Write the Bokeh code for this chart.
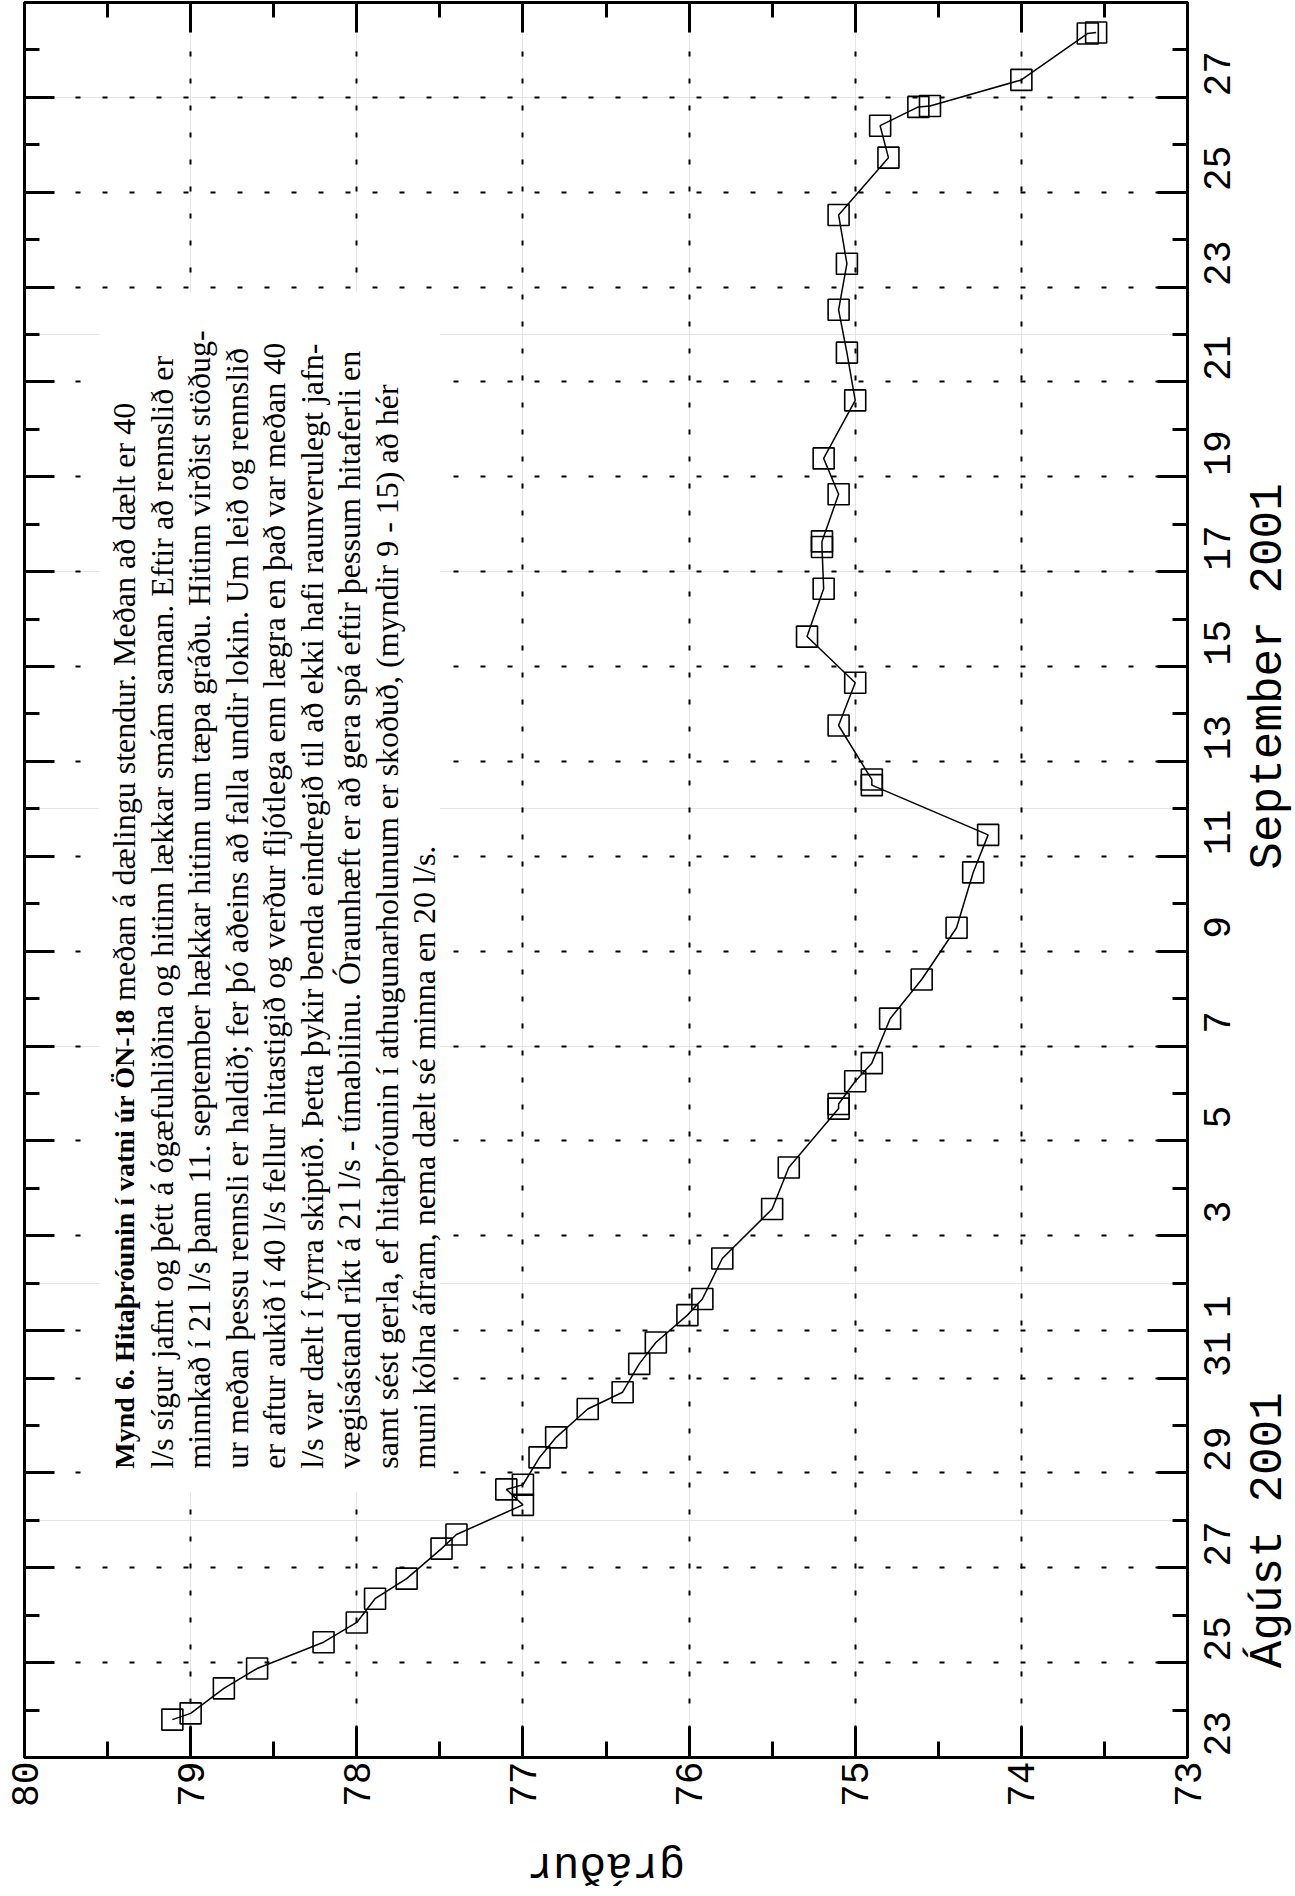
import math
import pandas as pd
from bokeh.plotting import figure
from bokeh.models import Range1d, LinearAxis, FixedTicker, Grid
from bokeh.core.properties import value
from bokeh.embed import file_html
from bokeh.resources import INLINE

# ---------------- data ----------------
times = [
    "2001-08-23 19:10", "2001-08-23 22:20", "2001-08-24 11:00", "2001-08-24 21:00",
    "2001-08-25 10:20", "2001-08-25 20:20", "2001-08-26 08:20", "2001-08-26 18:30",
    "2001-08-27 09:40", "2001-08-27 16:50", "2001-08-28 07:50", "2001-08-28 15:40",
    "2001-08-28 18:00", "2001-08-29 07:50", "2001-08-29 18:00", "2001-08-30 08:20",
    "2001-08-30 16:50", "2001-08-31 07:10", "2001-08-31 18:00", "2001-09-01 07:50",
    "2001-09-01 16:00", "2001-09-02 12:30", "2001-09-03 13:30", "2001-09-04 10:30",
    "2001-09-05 16:20", "2001-09-05 18:40", "2001-09-06 06:10", "2001-09-06 15:20",
    "2001-09-07 13:50", "2001-09-08 09:40", "2001-09-09 11:50", "2001-09-10 15:50",
    "2001-09-11 10:50", "2001-09-12 12:00", "2001-09-12 14:50", "2001-09-13 18:10",
    "2001-09-14 15:50", "2001-09-15 15:10", "2001-09-16 15:20", "2001-09-17 12:30",
    "2001-09-17 15:20", "2001-09-18 15:10", "2001-09-19 09:20", "2001-09-20 14:40",
    "2001-09-21 14:50", "2001-09-22 12:30", "2001-09-23 11:50", "2001-09-24 12:30",
    "2001-09-25 17:30", "2001-09-26 09:40", "2001-09-26 19:10", "2001-09-26 19:40",
    "2001-09-27 08:50", "2001-09-28 08:20", "2001-09-28 08:50",
]
temps = [
    79.11, 79.00, 78.80, 78.60,
    78.20, 78.00, 77.89, 77.70,
    77.49, 77.40, 77.00, 77.10,
    77.00, 76.90, 76.80, 76.61,
    76.40, 76.30, 76.20, 76.01,
    75.92, 75.80, 75.50, 75.40,
    75.10, 75.10, 75.00, 74.90,
    74.79, 74.60, 74.39, 74.29,
    74.20, 74.90, 74.90, 75.10,
    75.00, 75.29, 75.19, 75.20,
    75.20, 75.10, 75.19, 75.00,
    75.05, 75.10, 75.05, 75.10,
    74.80, 74.85, 74.62, 74.55,
    74.00, 73.60, 73.55,
]

temp_ticks = [73, 74, 75, 76, 77, 78, 79, 80]
aug_label_days = [23, 25, 27, 29, 31]
sep_label_days = [1, 3, 5, 7, 9, 11, 13, 15, 17, 19, 21, 23, 25, 27]

x_label = "gráður"
month_labels = ["Ágúst 2001", "September 2001"]
month_label_centers = ["2001-08-27 19:00", "2001-09-14 19:00"]

title_bold = "Mynd 6. Hitaþróunin í vatni úr ÖN-18"
text_lines = [
    "meðan á dælingu stendur.  Meðan að dælt er 40",
    "l/s sígur jafnt og þétt á ógæfuhliðina og hitinn lækkar smám saman. Eftir að rennslið er",
    "minnkað í 21 l/s þann 11.  september hækkar hitinn um tæpa gráðu. Hitinn virðist stöðug-",
    "ur meðan þessu rennsli er haldið; fer þó aðeins að falla undir lokin. Um leið og rennslið",
    "er aftur aukið í 40 l/s fellur hitastigið og verður fljótlega enn lægra en það var meðan 40",
    "l/s var dælt í fyrra skiptið. Þetta þykir benda eindregið til að ekki hafi raunverulegt jafn-",
    "vægisástand ríkt á 21 l/s - tímabilinu. Óraunhæft er að gera spá eftir þessum hitaferli en",
    "samt sést gerla, ef hitaþróunin í athugunarholunum er skoðuð, (myndir 9 - 15) að hér",
    "muni kólna áfram, nema dælt sé minna en 20 l/s.",
]

# ---------------- layout constants ----------------
FRAME_W, FRAME_H = 1163, 1755
N_DAYS = 37
PX_PER_DAY = FRAME_H / N_DAYS
PX_PER_DEG = FRAME_W / 7
MONO = "Liberation Mono"
SERIF = "Liberation Serif"
DAY_FS, MONTH_FS, TEMP_FS, XLAB_FS = 38, 46, 38, 44
MONO_ADV = 0.6  # advance width of the monospaced font, in em

# ---------------- derived ----------------
start = pd.Timestamp("2001-08-23")
day = pd.Timedelta(days=1)
days = [(pd.Timestamp(t) - start) / day for t in times]
sep_offset = (pd.Timestamp("2001-09-01") - start) / day  # 9

grid_days = [d - 23 for d in aug_label_days] + [sep_offset + d - 1 for d in sep_label_days]
label_txt = [str(d) for d in aug_label_days] + [str(d) for d in sep_label_days]
all_days = list(range(0, N_DAYS + 1))
half_temps = [t + 0.5 for t in temp_ticks[:-1]]


def start_for_center(center, text, fs):
    # rotated labels are drawn from their anchor upward: shift anchor by half length
    return center - (len(text) * MONO_ADV * fs / 2) / PX_PER_DAY


label_pos = [start_for_center(g + 0.5, t, DAY_FS) for g, t in zip(grid_days, label_txt)]
month_centers = [(pd.Timestamp(t) - start) / day for t in month_label_centers]
month_pos = [start_for_center(c, t, MONTH_FS) for c, t in zip(month_centers, month_labels)]

p = figure(
    x_range=Range1d(80, 73), y_range=Range1d(0, N_DAYS),
    frame_width=FRAME_W, frame_height=FRAME_H,
    x_axis_location=None, y_axis_location=None,
    output_backend="svg", toolbar_location=None,
    min_border_left=24, min_border_right=106, min_border_top=2, min_border_bottom=137,
    background_fill_color="white", border_fill_color="white",
)
p.outline_line_color = "black"
p.outline_line_width = 3


def tick_axis(minor, length):
    """An axis that only draws inward tick marks (minor ticks carry no labels)."""
    return LinearAxis(
        ticker=FixedTicker(ticks=[], minor_ticks=minor),
        axis_line_color=None, major_tick_in=0, major_tick_out=0,
        minor_tick_in=length, minor_tick_out=0,
        minor_tick_line_width=3, minor_tick_line_color="black",
        major_label_standoff=0,
    )


# bottom: ticks + temperature labels
bottom = LinearAxis(
    ticker=FixedTicker(ticks=temp_ticks, minor_ticks=half_temps),
    axis_line_color=None,
    major_tick_in=31, major_tick_out=0, minor_tick_in=16, minor_tick_out=0,
    major_tick_line_width=3, minor_tick_line_width=3,
    major_label_orientation=math.pi / 2,
    major_label_text_font=MONO, major_label_text_font_size=f"{TEMP_FS}px",
    major_label_text_color="black", major_label_standoff=4)
p.add_layout(bottom, "below")

xlab_pos = 76.5 + (len(x_label) * MONO_ADV * XLAB_FS / 2) / PX_PER_DEG
xlab_axis = LinearAxis(
    ticker=FixedTicker(ticks=[xlab_pos]),
    major_label_overrides={xlab_pos: x_label},
    axis_line_color=None, major_tick_in=0, major_tick_out=0,
    minor_tick_in=0, minor_tick_out=0,
    major_label_orientation=math.pi,
    major_label_text_font=MONO, major_label_text_font_size=f"{XLAB_FS}px",
    major_label_text_color="black", major_label_standoff=55)
p.add_layout(xlab_axis, "below")

# top: ticks only
p.add_layout(tick_axis([float(t) for t in temp_ticks], 30), "above")
p.add_layout(tick_axis(half_temps, 15), "above")

# left: ticks only
p.add_layout(tick_axis(grid_days, 30), "left")
p.add_layout(tick_axis(all_days, 15), "left")
p.add_layout(tick_axis([sep_offset], 40), "left")

# right: ticks, then day labels, then month labels
p.add_layout(tick_axis(grid_days, 30), "right")
p.add_layout(tick_axis(all_days, 15), "right")
p.add_layout(tick_axis([sep_offset], 40), "right")

right_labels = LinearAxis(
    ticker=FixedTicker(ticks=label_pos),
    major_label_overrides={pos: txt for pos, txt in zip(label_pos, label_txt)},
    axis_line_color=None, major_tick_in=0, major_tick_out=0,
    minor_tick_in=0, minor_tick_out=0,
    major_label_orientation=math.pi / 2,
    major_label_text_font=MONO, major_label_text_font_size=f"{DAY_FS}px",
    major_label_text_color="black", major_label_standoff=30)
p.add_layout(right_labels, "right")

right_months = LinearAxis(
    ticker=FixedTicker(ticks=month_pos),
    major_label_overrides={pos: txt for pos, txt in zip(month_pos, month_labels)},
    axis_line_color=None, major_tick_in=0, major_tick_out=0,
    minor_tick_in=0, minor_tick_out=0,
    major_label_orientation=math.pi / 2,
    major_label_text_font=MONO, major_label_text_font_size=f"{MONTH_FS}px",
    major_label_text_color="black", major_label_standoff=23)
p.add_layout(right_months, "right")

grid_style = dict(grid_line_color="black", grid_line_width=2, grid_line_dash="5 22")
p.add_layout(Grid(dimension=0, ticker=FixedTicker(ticks=temp_ticks), **grid_style))
p.add_layout(Grid(dimension=1, ticker=FixedTicker(ticks=grid_days), **grid_style))

# white panel behind the caption
p.quad(left=[79.55], right=[77.50], bottom=[5.6], top=[30.9],
       fill_color="white", line_color=None)

# data
p.line(temps, days, line_color="black", line_width=1.5)
p.scatter(temps, days, marker="square", size=21, fill_color=None,
          line_color="black", line_width=1.6)

# caption (rotated, reading upward)
line_x0, line_step, text_y0, normal_start = 79.40, 0.2258, 6.09, 15.95
p.text(x=[line_x0], y=[text_y0], text=[title_bold], angle=math.pi / 2,
       text_align="left", text_baseline="middle", text_font=value(SERIF),
       text_font_style="bold", text_font_size="28px", text_color="black")
xs = [line_x0 - line_step * i for i in range(len(text_lines))]
ys = [normal_start] + [text_y0] * (len(text_lines) - 1)
p.text(x=xs, y=ys, text=text_lines, angle=math.pi / 2,
       text_align="left", text_baseline="middle", text_font=value(SERIF),
       text_font_size="32px", text_color="black")

open("out.html", "w").write(file_html(p, INLINE))
